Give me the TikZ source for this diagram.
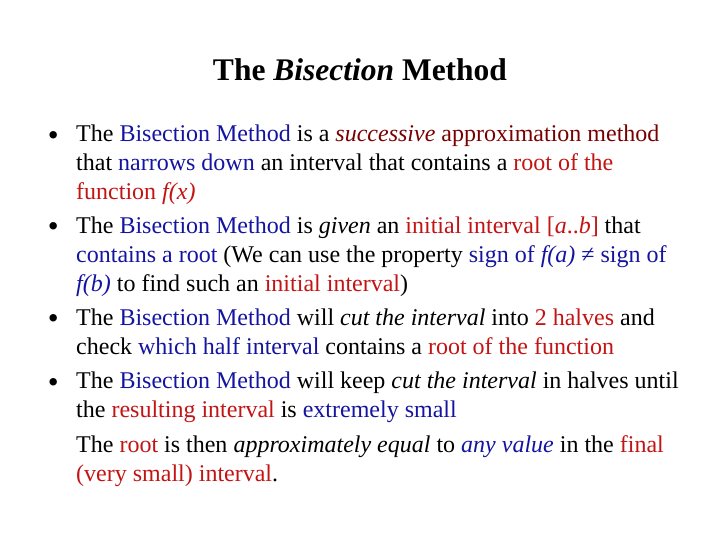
\documentclass[tikz,border=0pt]{standalone}
\usepackage{fontspec}
\setmainfont{Liberation Serif}
\usetikzlibrary{positioning}
\definecolor{bisBlue}{RGB}{20,20,160}
\definecolor{bisRed}{RGB}{195,20,20}
\definecolor{bisMaroon}{RGB}{120,0,0}
\newcommand{\bl}[1]{\textcolor{bisBlue}{#1}}
\newcommand{\rd}[1]{\textcolor{bisRed}{#1}}
\begin{document}
\begin{tikzpicture}[x=1bp, y=-1bp,
    slidetext/.style={inner sep=0pt, align=left, anchor=north west,
        font=\fontsize{24bp}{29bp}\selectfont,
        execute at begin node=\strut, execute at end node=\strut},
    bulletmark/.style={inner sep=0pt, anchor=north east,
        font=\fontsize{31bp}{29bp}\selectfont,
        execute at begin node=\strut}]
    \useasboundingbox (0,0) rectangle (720,540);

    % Title
    \node[anchor=base, inner sep=0pt, font=\fontsize{31.5bp}{36bp}\selectfont\bfseries]
        (title) at (360,81) {The \textit{Bisection} Method};

    % Items
    \node[slidetext] (item1) at (76,124.7) {The \bl{Bisection Method} is a \textcolor{bisMaroon}{\textit{successive} approximation method}\\
        that \bl{narrows down} an interval that contains a \rd{root of the}\\
        \rd{function \textit{f(x)}}};
    \node[slidetext, below=8bp of item1.south west, anchor=north west] (item2) {The \bl{Bisection Method} is \textit{given} an \rd{initial interval [\textit{a}..\textit{b}]} that\\
        \bl{contains a root} (We can use the property \bl{sign of \textit{f(a)} ≠ sign of}\\
        \bl{\textit{f(b)}} to find such an \rd{initial interval})};
    \node[slidetext, below=8bp of item2.south west, anchor=north west] (item3) {The \bl{Bisection Method} will \textit{cut the interval} into \rd{2 halves} and\\
        check \bl{which half interval} contains a \rd{root of the function}};
    \node[slidetext, below=9bp of item3.south west, anchor=north west] (item4) {The \bl{Bisection Method} will keep \textit{cut the interval} in halves until\\
        the \rd{resulting interval} is \bl{extremely small}};
    \node[slidetext, below=9bp of item4.south west, anchor=north west] (note) {The \rd{root} is then \textit{approximately equal} to \bl{\textit{any value}} in the \rd{final}\\
        \rd{(very small) interval}.};

    % Bullets
    \foreach \it in {item1, item2, item3, item4}
        \node[bulletmark, left=17bp of \it.north west, anchor=north east] {•};
\end{tikzpicture}
\end{document}
